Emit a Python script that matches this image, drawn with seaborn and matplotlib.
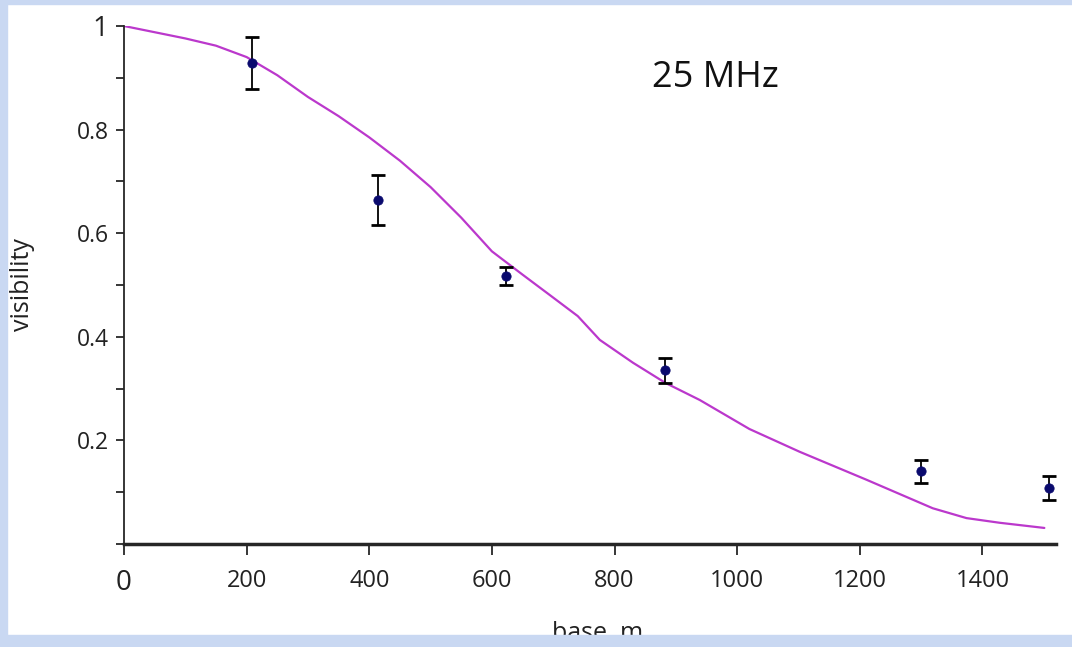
import pandas as pd
import matplotlib
matplotlib.use("Agg")
import matplotlib.pyplot as plt
import seaborn as sns
from matplotlib.patches import Rectangle
from matplotlib.ticker import MultipleLocator

# model curve
curve_base = [0, 100, 150, 200, 250, 300, 350, 400, 450, 500, 550, 600, 650,
              694, 740, 776, 830, 883, 939, 1020, 1102, 1211, 1319, 1374, 1428, 1501]
curve_vis = [1.0, 0.976, 0.962, 0.94, 0.905, 0.863, 0.826, 0.785, 0.74, 0.689, 0.63,
             0.565, 0.52, 0.481, 0.44, 0.394, 0.35, 0.311, 0.278, 0.222, 0.178,
             0.124, 0.069, 0.050, 0.041, 0.031]

# measured points with error bars
meas_base = [208, 414, 623, 883, 1300, 1508]
meas_vis = [0.929, 0.664, 0.517, 0.335, 0.140, 0.108]
meas_err = [0.050, 0.049, 0.017, 0.025, 0.022, 0.023]

x_ticks = [0, 200, 400, 600, 800, 1000, 1200, 1400]
y_ticks = [0.2, 0.4, 0.6, 0.8, 1.0]
y_ticklabels = ["0.2", "0.4", "0.6", "0.8", "1"]

sns.set_style("ticks")
plt.rcParams['font.family'] = ['Open Sans', 'DejaVu Sans']

fig = plt.figure(figsize=(10.72, 6.47), dpi=100)
fig.patch.set_facecolor("white")
ax = fig.add_axes([124 / 1072, 1 - 544 / 647, (1056 - 124) / 1072, 518 / 647])

curve = pd.DataFrame({"base": curve_base, "vis": curve_vis})
meas = pd.DataFrame({"base": meas_base, "vis": meas_vis, "err": meas_err})

sns.lineplot(data=curve, x="base", y="vis", ax=ax, color="#bb38cc", lw=1.6)
ax.errorbar(meas["base"], meas["vis"], yerr=meas["err"], fmt="none",
            ecolor="black", elinewidth=1.3, capsize=5, capthick=2)
sns.scatterplot(data=meas, x="base", y="vis", ax=ax, color="#0a0a6e",
                s=45, marker="o", edgecolor="#0a0a6e", zorder=5)

ax.set_xlim(0, 1520)
ax.set_ylim(0, 1)
ax.set_xticks(x_ticks)
ax.set_xticklabels([str(v) for v in x_ticks])
ax.set_yticks(y_ticks)
ax.set_yticklabels(y_ticklabels)
ax.yaxis.set_minor_locator(MultipleLocator(0.1))

for s in ["top", "right"]:
    ax.spines[s].set_visible(False)
ax.spines["left"].set_linewidth(1.3)
ax.spines["bottom"].set_linewidth(2.5)
ax.tick_params(axis="y", which="both", length=6, width=1.3, labelsize=16.5, pad=5,
               labelcolor="#222222")
ax.tick_params(axis="x", length=8, width=1.3, labelsize=17, pad=10,
               labelcolor="#222222")
ax.get_xticklabels()[0].set_fontsize(20)
ax.get_yticklabels()[-1].set_fontsize(20)

ax.set_xlabel("base, m", fontsize=18, color="#222222")
ax.xaxis.set_label_coords(0.508, -0.148)
ax.set_ylabel("visibility", fontsize=18, color="#222222")
ax.yaxis.set_label_coords(-0.095, 0.5)

ax.text(965, 0.90, "25 MHz", fontsize=26, color="#111111", ha="center", va="center")

# bluish frame around the picture
frame = "#c9d8f2"
fig.add_artist(Rectangle((0, 0), 7 / 1072, 1, transform=fig.transFigure,
                         color=frame, zorder=10))
fig.add_artist(Rectangle((0, 1 - 4 / 647), 1, 4 / 647, transform=fig.transFigure,
                         color=frame, zorder=10))
fig.add_artist(Rectangle((0, 0), 1, 12 / 647, transform=fig.transFigure,
                         color=frame, zorder=10))

fig.savefig("out.png", dpi=100, facecolor=fig.get_facecolor())
